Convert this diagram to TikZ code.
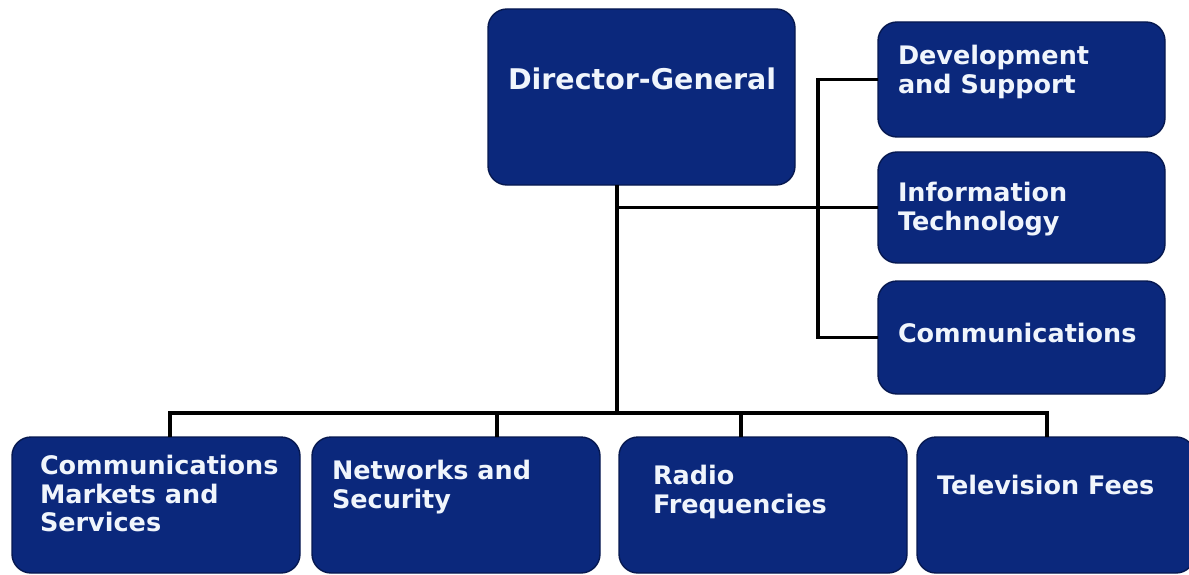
\documentclass[tikz,border=0pt]{standalone}
\usepackage{fontspec}
\setsansfont{DejaVu Sans}
\usepackage{tikz}
\usetikzlibrary{positioning}
\definecolor{orgnavy}{RGB}{11,40,124}
\definecolor{orgedge}{RGB}{6,24,80}
\definecolor{orgtext}{RGB}{240,245,252}

\begin{document}
\begin{tikzpicture}[x=1pt,y=1pt,line width=3.3pt]
\tikzstyle{unitbox} = [rectangle, draw=orgedge, line width=1.4pt, fill=orgnavy, rounded corners=19pt, inner sep=0pt, outer sep=0pt, anchor=north west]
\tikzstyle{sidebox} = [unitbox, minimum width=287pt]
\tikzstyle{basebox} = [unitbox, minimum width=288pt, minimum height=136pt]
\tikzstyle{unitname} = [inner sep=0pt, outer sep=0pt, anchor=north west, align=left, text=orgtext, font=\sffamily\bfseries\fontsize{25.5}{28.5}\selectfont]

\useasboundingbox (0,0) rectangle (1189,-575);

\node[unitbox, minimum width=307pt, minimum height=176pt] (DG) at (488,-9) {};
\node[sidebox, minimum height=115pt] (DEV) at (878,-22) {};
\node[sidebox, minimum height=111pt, below=15pt of DEV] (INFO) {};
\node[sidebox, minimum height=113pt, below=18pt of INFO] (COMM) {};

\node[basebox] (CMS) at (12,-437) {};
\node[basebox, right=12pt of CMS] (NS) {};
\node[basebox, right=19pt of NS] (RF) {};
\node[basebox, minimum width=278pt, right=10pt of RF] (TV) {};

\node[unitname, font=\sffamily\bfseries\fontsize{28.5}{30}\selectfont, below right=59pt and 20pt of DG.north west] (DGt) {Director-General};
\node[unitname, below right=23.6pt and 20pt of DEV.north west] (DEVt) {Development\\and Support};
\node[unitname, below right=30.6pt and 20pt of INFO.north west] (INFOt) {Information\\Technology};
\node[unitname, below right=42.6pt and 20pt of COMM.north west] (COMMt) {Communications};
\node[unitname, below right=18.6pt and 28pt of CMS.north west] (CMSt) {Communications\\Markets and\\Services};
\node[unitname, below right=23.6pt and 20pt of NS.north west] (NSt) {Networks and\\Security};
\node[unitname, below right=28.6pt and 34pt of RF.north west] (RFt) {Radio\\Frequencies};
\node[unitname, below right=38.6pt and 20pt of TV.north west] (TVt) {Television Fees};

\coordinate (bus) at (617,-413);
\coordinate (brk) at (818,-79);

\draw (DG.south -| bus) -- (bus);
\draw (bus |- INFO.west) -- (INFO.west);
\draw (DEV.west) -- (DEV.west -| brk) -- (COMM.west -| brk) -- (COMM.west);
\draw ([xshift=14pt]CMS.north) |- (bus) -| ([xshift=-9pt]TV.north);
\draw ([xshift=41pt]NS.north) -- ([xshift=41pt]NS.north |- bus);
\draw ([xshift=-22pt]RF.north) -- ([xshift=-22pt]RF.north |- bus);

\end{tikzpicture}
\end{document}
